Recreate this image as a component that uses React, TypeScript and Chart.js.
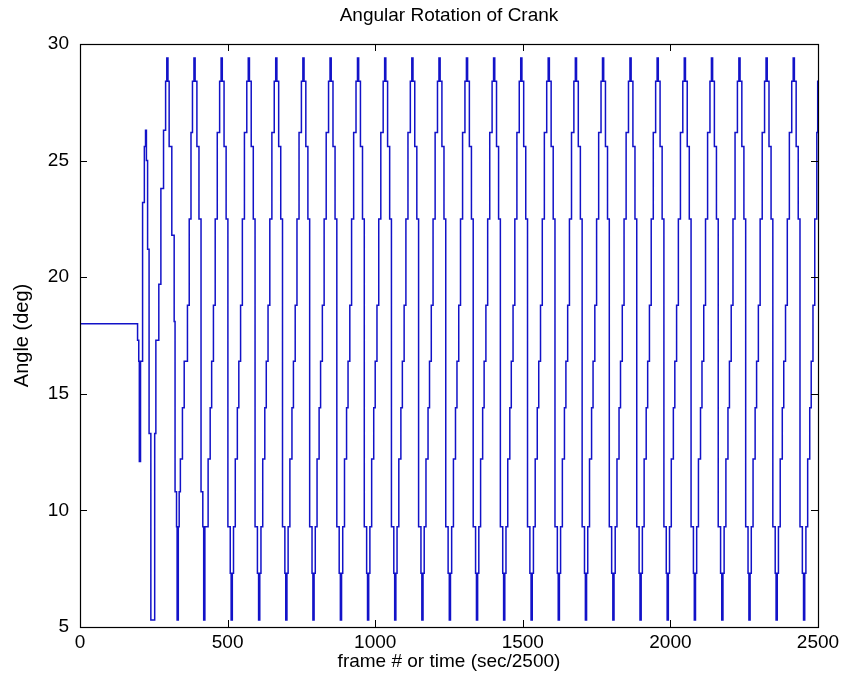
import React, { useEffect, useRef } from 'react';
import { Chart, registerables } from 'chart.js';

Chart.register(...registerables);

const chartTitle = 'Angular Rotation of Crank';
const xTitle = 'frame # or time (sec/2500)';
const yTitle = 'Angle (deg)';
const xTicks = [0, 500, 1000, 1500, 2000, 2500];
const yTicks = [5, 10, 15, 20, 25, 30];

// Start-up transient and first cycles: frame where each held angle begins
const startFrames = [
  0, 195, 199, 201, 205, 212, 218, 222, 225, 229, 234, 240, 253, 257, 267, 274,
  283, 290, 294, 298, 302, 311, 319, 322, 327, 329, 333, 336, 340, 347, 353, 364,
  370, 376, 381, 386, 390, 396, 403, 410, 416, 419, 423, 434, 441, 446, 452, 458,
  465, 473, 478, 482, 488, 495, 501, 509,
];
const startAngles = [
  18.0, 17.3, 16.4, 12.1, 16.4, 23.2, 25.6, 26.3, 25.0, 21.2, 13.3, 5.3, 13.3, 17.3, 19.7, 23.8,
  26.3, 28.4, 29.4, 28.4, 25.6, 21.8, 18.1, 10.8, 9.3, 5.3, 9.3, 10.8, 12.2, 14.4, 16.4, 18.8,
  22.5, 26.2, 28.4, 29.4, 28.4, 25.6, 22.5, 10.8, 9.3, 5.3, 9.3, 12.2, 14.4, 16.4, 18.8, 22.5,
  26.2, 28.4, 29.4, 28.4, 25.6, 22.5, 9.3, 7.3,
];

// Quantised angle levels held, in order, during each later cycle (deg)
const cycleLevels = [5.3, 7.3, 9.3, 12.2, 14.4, 16.4, 18.8, 22.5, 26.2, 28.4, 29.4, 28.4, 25.6, 22.5, 9.3, 7.3];

// Frame at which each of those levels begins, one row per cycle
const cycleFrames = [
  [512, 516, 520, 526, 533, 538, 544, 550, 557, 565, 570, 574, 580, 587, 593, 601],
  [605, 609, 613, 619, 626, 631, 637, 643, 650, 658, 663, 667, 673, 680, 686, 694],
  [697, 701, 705, 711, 718, 723, 729, 735, 742, 750, 755, 759, 765, 772, 778, 786],
  [789, 793, 797, 803, 810, 815, 821, 827, 834, 842, 847, 851, 857, 864, 870, 878],
  [882, 886, 890, 896, 903, 908, 914, 920, 927, 935, 940, 944, 950, 957, 963, 971],
  [974, 978, 982, 988, 995, 1000, 1006, 1012, 1019, 1027, 1032, 1036, 1042, 1049, 1055, 1063],
  [1066, 1070, 1074, 1080, 1087, 1092, 1098, 1104, 1111, 1119, 1124, 1128, 1134, 1141, 1147, 1155],
  [1158, 1162, 1166, 1172, 1179, 1184, 1190, 1196, 1203, 1211, 1216, 1220, 1226, 1233, 1239, 1247],
  [1251, 1255, 1259, 1265, 1272, 1277, 1283, 1289, 1296, 1304, 1309, 1313, 1319, 1326, 1332, 1340],
  [1343, 1347, 1351, 1357, 1364, 1369, 1375, 1381, 1388, 1396, 1401, 1405, 1411, 1418, 1424, 1432],
  [1435, 1439, 1443, 1449, 1456, 1461, 1467, 1473, 1480, 1488, 1493, 1497, 1503, 1510, 1516, 1524],
  [1528, 1532, 1536, 1542, 1549, 1554, 1560, 1566, 1573, 1581, 1586, 1590, 1596, 1603, 1609, 1617],
  [1620, 1624, 1628, 1634, 1641, 1646, 1652, 1658, 1665, 1673, 1678, 1682, 1688, 1695, 1701, 1709],
  [1712, 1716, 1720, 1726, 1733, 1738, 1744, 1750, 1757, 1765, 1770, 1774, 1780, 1787, 1793, 1801],
  [1805, 1809, 1813, 1819, 1826, 1831, 1837, 1843, 1850, 1858, 1863, 1867, 1873, 1880, 1886, 1894],
  [1897, 1901, 1905, 1911, 1918, 1923, 1929, 1935, 1942, 1950, 1955, 1959, 1965, 1972, 1978, 1986],
  [1989, 1993, 1997, 2003, 2010, 2015, 2021, 2027, 2034, 2042, 2047, 2051, 2057, 2064, 2070, 2078],
  [2081, 2085, 2089, 2095, 2102, 2107, 2113, 2119, 2126, 2134, 2139, 2143, 2149, 2156, 2162, 2170],
  [2174, 2178, 2182, 2188, 2195, 2200, 2206, 2212, 2219, 2227, 2232, 2236, 2242, 2249, 2255, 2263],
  [2266, 2270, 2274, 2280, 2287, 2292, 2298, 2304, 2311, 2319, 2324, 2328, 2334, 2341, 2347, 2355],
  [2358, 2362, 2366, 2372, 2379, 2384, 2390, 2396, 2403, 2411, 2416, 2420, 2426, 2433, 2439, 2447],
  [2451, 2455, 2459, 2465, 2472, 2477, 2483, 2489, 2496, 2499],
];

const endFrame = 2500;
const endAngle = 28.4;

const FONT = "'Liberation Sans', Arial, Helvetica, sans-serif";

const boxPlugin = {
  id: 'matlabBox',
  afterDraw(chart: any) {
    const { ctx, chartArea } = chart;
    const { left, right, top, bottom } = chartArea;
    const xs = chart.scales.x;
    const ys = chart.scales.y;
    const tl = 7;
    ctx.save();
    ctx.strokeStyle = '#000';
    ctx.lineWidth = 1;
    ctx.beginPath();
    xTicks.forEach((v) => {
      const px = Math.round(xs.getPixelForValue(v)) + 0.5;
      ctx.moveTo(px, bottom);
      ctx.lineTo(px, bottom - tl);
      ctx.moveTo(px, top);
      ctx.lineTo(px, top + tl);
    });
    yTicks.forEach((v) => {
      const py = Math.round(ys.getPixelForValue(v)) + 0.5;
      ctx.moveTo(left, py);
      ctx.lineTo(left + tl, py);
      ctx.moveTo(right, py);
      ctx.lineTo(right - tl, py);
    });
    ctx.stroke();
    ctx.lineWidth = 1.2;
    ctx.strokeRect(Math.round(left) + 0.5, Math.round(top) + 0.5, Math.round(right - left), Math.round(bottom - top));
    // title centred over the plot box
    ctx.fillStyle = '#000';
    ctx.font = `19px ${FONT}`;
    ctx.textAlign = 'center';
    ctx.textBaseline = 'middle';
    ctx.fillText(chartTitle, (left + right) / 2, 16);
    ctx.restore();
  },
};

export default function App() {
  const ref = useRef<HTMLCanvasElement | null>(null);

  useEffect(() => {
    if (!ref.current) return;
    const points: { x: number; y: number }[] = [];
    startFrames.forEach((f, i) => points.push({ x: f, y: startAngles[i] }));
    cycleFrames.forEach((row) => row.forEach((f, i) => points.push({ x: f, y: cycleLevels[i] })));
    points.push({ x: endFrame, y: endAngle });

    const font = { family: FONT, size: 19, weight: 'normal' as const };
    const yFont = { family: FONT, size: 20, weight: 'normal' as const };
    const plain = (v: any) => String(v);

    const chart = new Chart(ref.current, {
      type: 'line',
      data: {
        datasets: [
          {
            data: points,
            stepped: true,
            borderColor: 'rgb(18,18,200)',
            borderWidth: 1.5,
            pointRadius: 0,
            fill: false,
          },
        ],
      },
      options: {
        responsive: false,
        animation: false,
        events: [],
        layout: { padding: { left: 0, right: 27, top: 44, bottom: 0 } },
        plugins: {
          legend: { display: false },
          tooltip: { enabled: false },
          title: { display: false },
        },
        scales: {
          x: {
            type: 'linear',
            min: 0,
            max: 2500,
            afterBuildTicks: (s: any) => {
              s.ticks = xTicks.map((v) => ({ value: v }));
            },
            grid: { display: false, drawTicks: false },
            border: { display: false },
            ticks: { color: '#000', font, padding: 4, maxRotation: 0, autoSkip: false, callback: plain },
            title: { display: true, text: xTitle, color: '#000', font, padding: { top: 0, bottom: 15 } },
            afterFit: (s: any) => {
              s.height = 61;
            },
          },
          y: {
            type: 'linear',
            min: 5,
            max: 30,
            afterBuildTicks: (s: any) => {
              s.ticks = yTicks.map((v) => ({ value: v }));
            },
            grid: { display: false, drawTicks: false },
            border: { display: false },
            ticks: { color: '#000', font, padding: 11, autoSkip: false, callback: plain },
            title: { display: true, text: yTitle, color: '#000', font: yFont, padding: { top: 10, bottom: 0 } },
            afterFit: (s: any) => {
              s.width = 80;
            },
          },
        },
      },
      plugins: [boxPlugin],
    });
    return () => chart.destroy();
  }, []);

  return (
    <div style={{ position: 'absolute', left: 0, top: 0, width: 845, height: 688, background: '#fff' }}>
      <canvas ref={ref} width={845} height={688} style={{ width: 845, height: 688, display: 'block' }} />
    </div>
  );
}
